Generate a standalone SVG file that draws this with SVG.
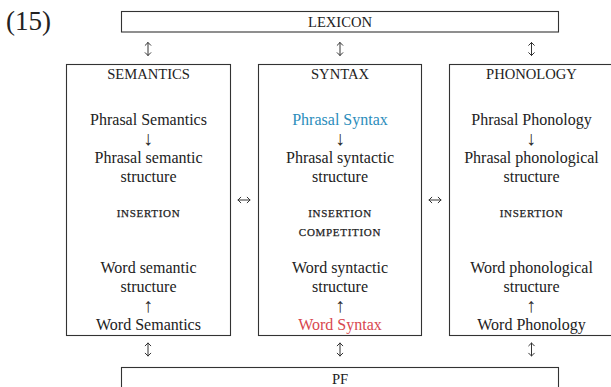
<svg xmlns="http://www.w3.org/2000/svg" width="611" height="387" viewBox="0 0 611 387">
<style>
.box{fill:#fff;stroke:#333;stroke-width:1.1}
.t{font-size:16px;fill:#222;text-anchor:middle}
.ar{font-size:20px;fill:#2a2a2a;text-anchor:middle;opacity:0.99}
.cap{font-size:14.6px;fill:#222;text-anchor:middle}
.sc{font-size:11px;letter-spacing:0.7px;fill:#222;text-anchor:middle;stroke:#222;stroke-width:0.25}
.blue{fill:#2b8dbb}
.red{fill:#d8474f}
.arr{fill:none;stroke:#333;stroke-width:1;stroke-linecap:round;stroke-linejoin:round}
</style>
<rect width="611" height="387" fill="#fff"/>
<g font-family="'Liberation Serif', 'Times New Roman', serif">
<text x="6" y="30" font-size="27" fill="#222">(15)</text>
<g id="lexicon">
<rect class="box" x="121.5" y="11.5" width="437" height="20.5"/>
<text class="cap" x="340" y="27">LEXICON</text>
</g>
<g id="semantics">
<rect class="box" x="66.5" y="64.5" width="164" height="271"/>
<text class="cap" x="148.5" y="79">SEMANTICS</text>
<text class="t" x="148.5" y="125">Phrasal Semantics</text>
<text class="ar" x="148" y="145">↓</text>
<text class="t" x="148.5" y="163">Phrasal semantic</text>
<text class="t" x="148.5" y="182">structure</text>
<text class="sc" x="148.5" y="217">INSERTION</text>
<text class="t" x="148.5" y="273">Word semantic</text>
<text class="t" x="148.5" y="292">structure</text>
<text class="ar" x="148" y="312">↑</text>
<text class="t" x="148.5" y="330">Word Semantics</text>
</g>
<g id="syntax">
<rect class="box" x="258.5" y="64.5" width="163" height="271"/>
<text class="cap" x="340" y="79">SYNTAX</text>
<text class="t blue" x="340" y="125">Phrasal Syntax</text>
<text class="ar" x="340" y="145">↓</text>
<text class="t" x="340" y="163">Phrasal syntactic</text>
<text class="t" x="340" y="182">structure</text>
<text class="sc" x="340" y="217">INSERTION</text>
<text class="sc" x="340" y="236">COMPETITION</text>
<text class="t" x="340" y="273">Word syntactic</text>
<text class="t" x="340" y="292">structure</text>
<text class="ar" x="340" y="312">↑</text>
<text class="t red" x="340" y="330">Word Syntax</text>
</g>
<g id="phonology">
<rect class="box" x="449.5" y="64.5" width="164" height="271"/>
<text class="cap" x="531.5" y="79">PHONOLOGY</text>
<text class="t" x="531.5" y="125">Phrasal Phonology</text>
<text class="ar" x="531" y="145">↓</text>
<text class="t" x="531.5" y="163">Phrasal phonological</text>
<text class="t" x="531.5" y="182">structure</text>
<text class="sc" x="531.5" y="217">INSERTION</text>
<text class="t" x="531.5" y="273">Word phonological</text>
<text class="t" x="531.5" y="292">structure</text>
<text class="ar" x="531" y="312">↑</text>
<text class="t" x="531.5" y="330">Word Phonology</text>
</g>
<g id="pf">
<rect class="box" x="121.5" y="367.5" width="437" height="30"/>
<text class="cap" x="340" y="384">PF</text>
</g>
</g>
<g id="connectors">
<path class="arr" d="M148 42.5V55.5M145.2 45.3L148 42.5L150.8 45.3M145.2 52.7L148 55.5L150.8 52.7"/>
<path class="arr" d="M340 42.5V55.5M337.2 45.3L340 42.5L342.8 45.3M337.2 52.7L340 55.5L342.8 52.7"/>
<path class="arr" d="M531.5 42.5V55.5M528.7 45.3L531.5 42.5L534.3 45.3M528.7 52.7L531.5 55.5L534.3 52.7"/>
<path class="arr" d="M148 343V356M145.2 345.8L148 343L150.8 345.8M145.2 353.2L148 356L150.8 353.2"/>
<path class="arr" d="M340 343V356M337.2 345.8L340 343L342.8 345.8M337.2 353.2L340 356L342.8 353.2"/>
<path class="arr" d="M531.5 343V356M528.7 345.8L531.5 343L534.3 345.8M528.7 353.2L531.5 356L534.3 353.2"/>
<path class="arr" d="M238 200H250M240.8 197.2L238 200L240.8 202.8M247.2 197.2L250 200L247.2 202.8"/>
<path class="arr" d="M429 200H441M431.8 197.2L429 200L431.8 202.8M438.2 197.2L441 200L438.2 202.8"/>
</g>
</svg>
